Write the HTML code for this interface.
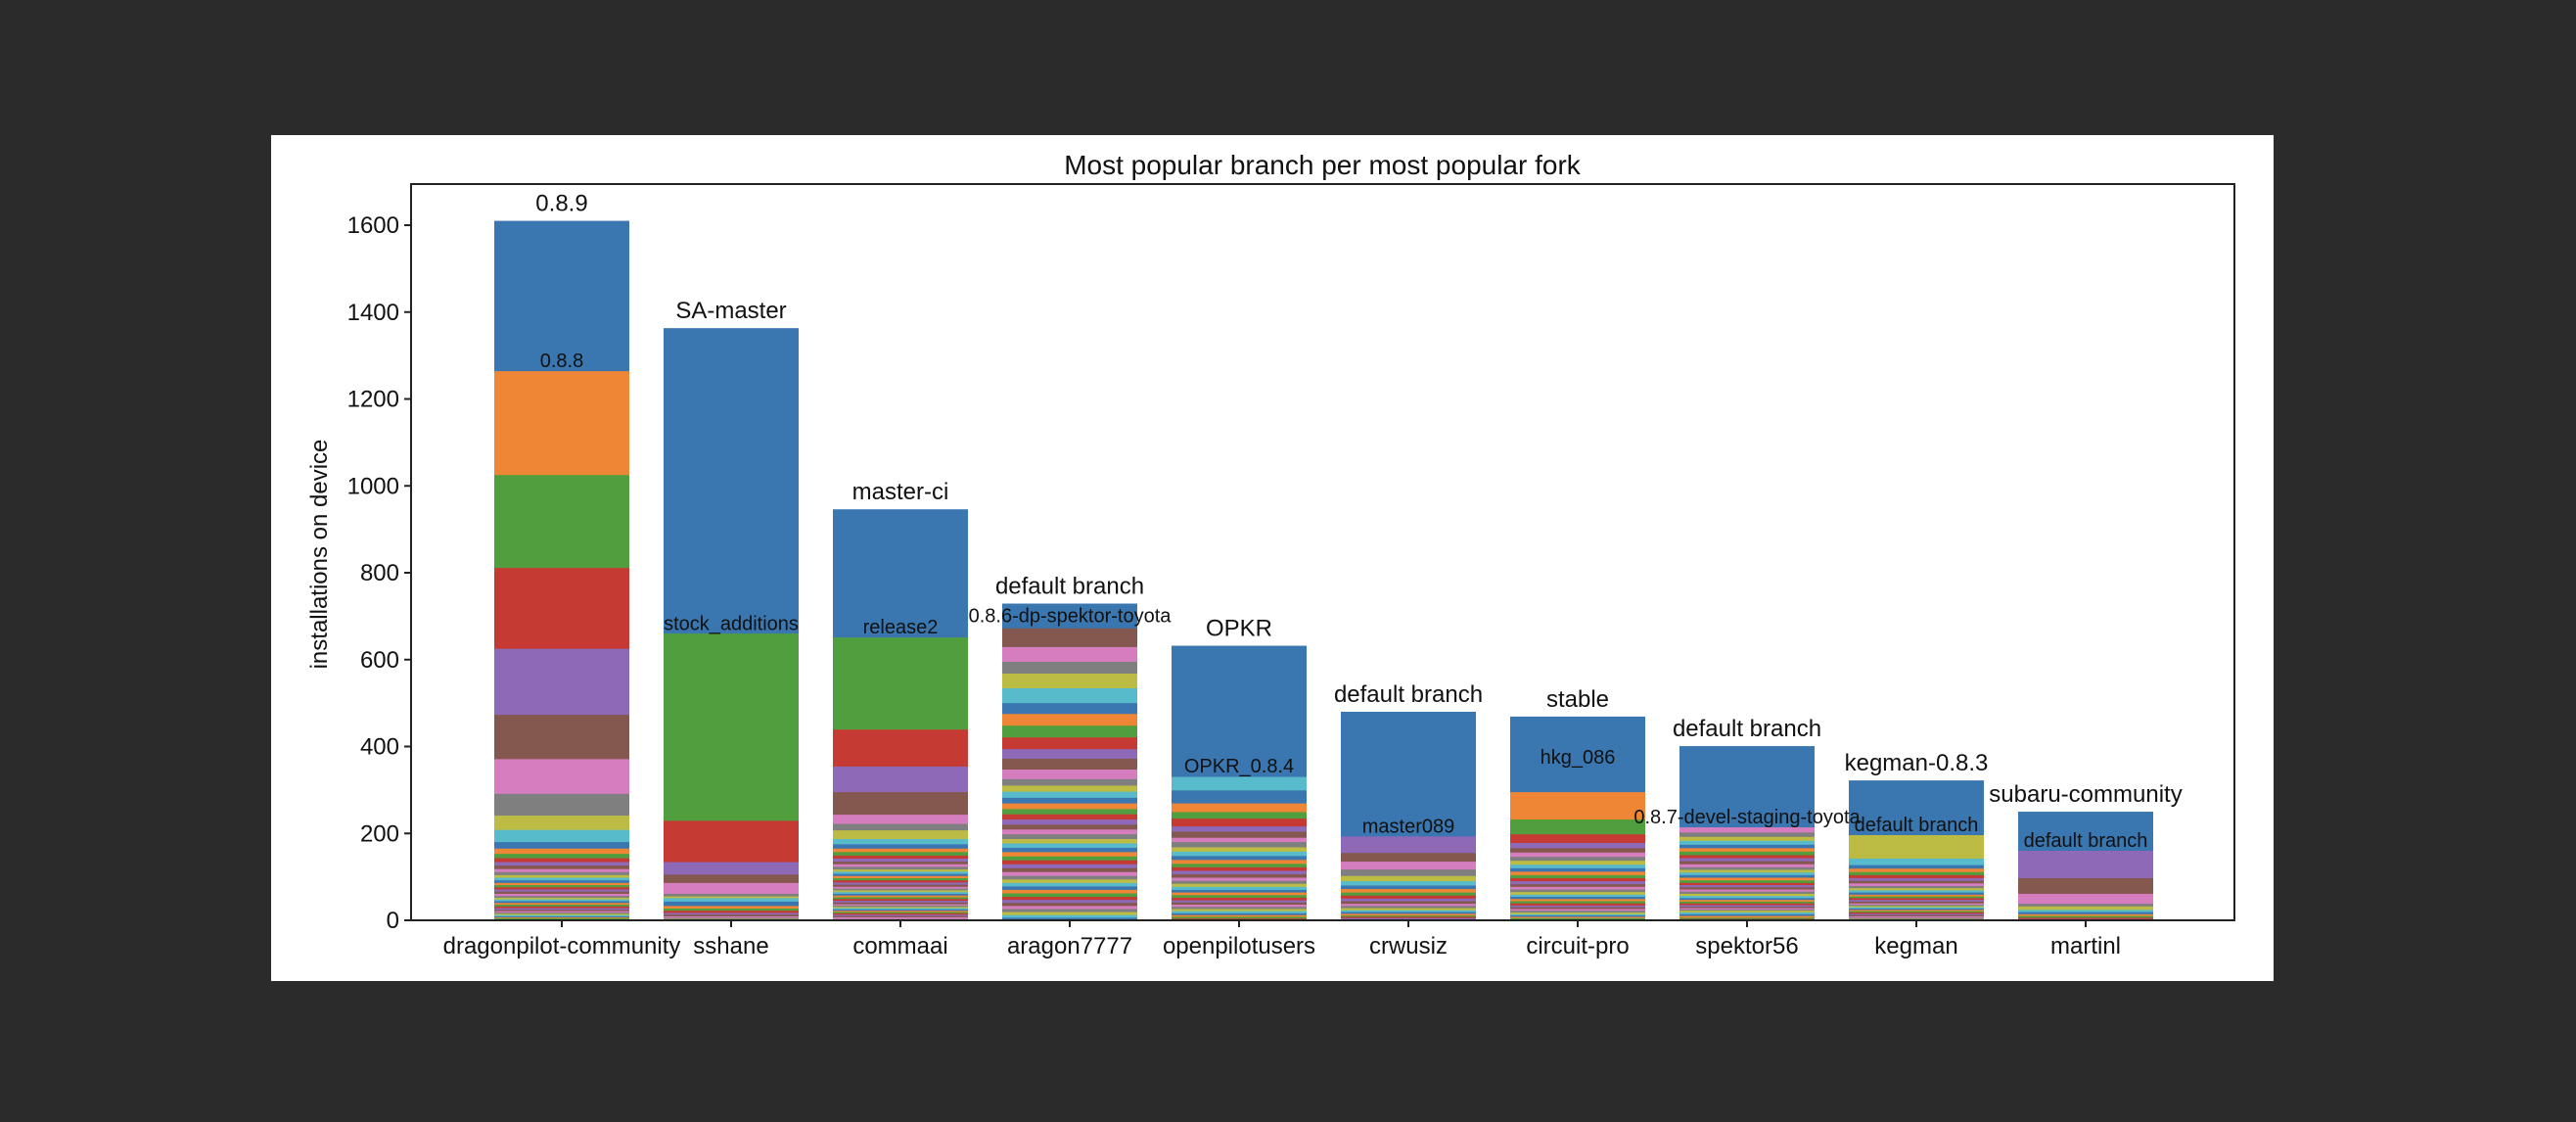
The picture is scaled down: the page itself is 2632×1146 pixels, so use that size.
<!DOCTYPE html>
<html><head><meta charset="utf-8"><style>
html,body{margin:0;padding:0;background:#2b2b2b;}
svg{display:block;font-family:"Liberation Sans",sans-serif;}
</style></head><body>
<svg id="chart" width="2632" height="1146" viewBox="0 0 2632 1146" xmlns="http://www.w3.org/2000/svg">
<rect x="0" y="0" width="2632" height="1146" fill="#2b2b2b"/>
<rect x="277" y="138" width="2046" height="864" fill="#ffffff"/>
<text x="1351" y="178" font-size="28" text-anchor="middle" fill="#111">Most popular branch per most popular fork</text>
<text transform="translate(334,566) rotate(-90)" font-size="24" text-anchor="middle" fill="#111">installations on device</text>
<g id="bars"></g>
<g id="labels"></g>
<g id="axes"></g>
</svg>
<script>
const forks = ["dragonpilot-community","sshane","commaai","aragon7777","openpilotusers","crwusiz","circuit-pro","spektor56","kegman","martinl"];
const topBranch = ["0.8.9","SA-master","master-ci","default branch","OPKR","default branch","stable","default branch","kegman-0.8.3","subaru-community"];
const secondBranch = ["0.8.8","stock_additions","release2","0.8.6-dp-spektor-toyota","OPKR_0.8.4","master089","hkg_086","0.8.7-devel-staging-toyota","default branch","default branch"];
const secondLabelValue = [1264,659,651,677,331,193,351,214,196,160];
const seg0 = [346,239,214,186,152,102,80,50,33,28,15,12,10,9,8,8,7,7,6,6,6,5,5,5,5,5,5,4,4,4,4,4,4,4,4,3,3,3,3,3,2,2,3,2];
const seg1 = [703,0,431,95,29,19,25,6,4,8,10,6,5,5,4,4,3,3,3];
const seg2 = [295,0,212,85,59,52,21,15,20,12,10,8,8,7,7,6,6,6,5,5,5,5,5,5,5,5,4,4,4,4,4,4,4,4,4,4,3,3,3,3,3,3,3,3,3,3,4,3];
const seg3 = [57,0,0,0,0,43,34,27,34,34,25,27,27,27,22,25,22,15,14,14,13,13,12,12,12,11,11,11,10,10,10,10,9,9,9,9,9,8,8,8,8,8,8,7,7,7,7,7,7,6,6];
const seg4 = [302,0,0,0,0,0,0,0,0,31,30,20,15,18,12,14,10,12,10,10,9,9,8,8,8,8,7,7,7,7,6,6,6,6,5,5,5,5,5,5,4,4,4,4];
const seg5 = [287,0,0,0,38,20,18,15,12,10,8,8,7,7,6,6,5,5,5,4,4,4,3,3,3,2];
const seg6 = [174,63,34,20,12,10,10,9,9,8,8,8,7,7,7,6,6,6,6,5,5,5,5,5,4,4,4,4,4,3,3,3,3,2];
const seg7 = [187,0,0,0,0,0,12,10,9,9,8,8,8,7,7,7,7,6,6,6,6,6,6,5,5,5,5,5,5,5,4,4,4,4,4,3,3,3,4,4,4,4,3,3];
const seg8 = [126,0,0,0,0,0,0,0,54,15,8,8,7,7,6,6,6,5,5,5,5,4,4,4,4,4,3,3,3,3,3,3,3,3,3,3,3,3,3];
const seg9 = [90,0,0,0,63,36,23,6,8,5,5,4,4,3,3];
const segments = [seg0,seg1,seg2,seg3,seg4,seg5,seg6,seg7,seg8,seg9];
const yTicks = [0,200,400,600,800,1000,1200,1400,1600];

const colors = ["#3a76af","#ef8636","#519e3e","#c53a32","#8d69b8","#84584e","#d57dbf","#7f7f7f","#bcbc45","#58bbcc"];
const NS = "http://www.w3.org/2000/svg";
const axL = 420, axR = 2283, axT = 188, axB = 940;
const x0 = 574, step = 173, barW = 138;
function xPos(i){ return x0 + i*step; }
function yPos(v){ return axB - v*0.44375; }
function mk(tag, attrs, parent){ const e = document.createElementNS(NS, tag); for (const k in attrs) e.setAttribute(k, attrs[k]); parent.appendChild(e); return e; }

const gb = document.getElementById('bars');
const gl = document.getElementById('labels');
const ga = document.getElementById('axes');

segments.forEach((segs, i) => {
  const total = segs.reduce((a,b)=>a+b,0);
  let top = total;
  segs.forEach((v, j) => {
    if (v > 0) {
      const r = mk('rect', {x: xPos(i)-barW/2, y: yPos(top), width: barW, height: v*0.44375 + 0.4, fill: colors[j%10]}, gb);
      
      
    }
    top -= v;
  });
  const t1 = mk('text', {x: xPos(i), y: yPos(total)-10, 'font-size': 24, 'text-anchor': 'middle', fill: '#111'}, gl);
  t1.textContent = topBranch[i];
  
  
  const t2 = mk('text', {x: xPos(i), y: yPos(secondLabelValue[i])-4, 'font-size': 20, 'text-anchor': 'middle', fill: '#111'}, gl);
  t2.textContent = secondBranch[i];
  
  
  const tk = mk('line', {x1: xPos(i), x2: xPos(i), y1: axB, y2: axB+7, stroke: '#222', 'stroke-width': 2}, ga);
  
  
  const tl = mk('text', {x: xPos(i), y: 974, 'font-size': 24, 'text-anchor': 'middle', fill: '#111'}, ga);
  tl.textContent = forks[i];
  
  
});

yTicks.forEach(v => {
  const tk = mk('line', {x1: axL-7, x2: axL, y1: yPos(v), y2: yPos(v), stroke: '#222', 'stroke-width': 2}, ga);
  
  
  const tl = mk('text', {x: axL-12, y: yPos(v)+8, 'font-size': 24, 'text-anchor': 'end', fill: '#111'}, ga);
  tl.textContent = v;
  
  
});

const frame = mk('rect', {x: axL, y: axT, width: axR-axL, height: axB-axT, fill: 'none', stroke: '#222', 'stroke-width': 2}, ga);


</script>
</body></html>
